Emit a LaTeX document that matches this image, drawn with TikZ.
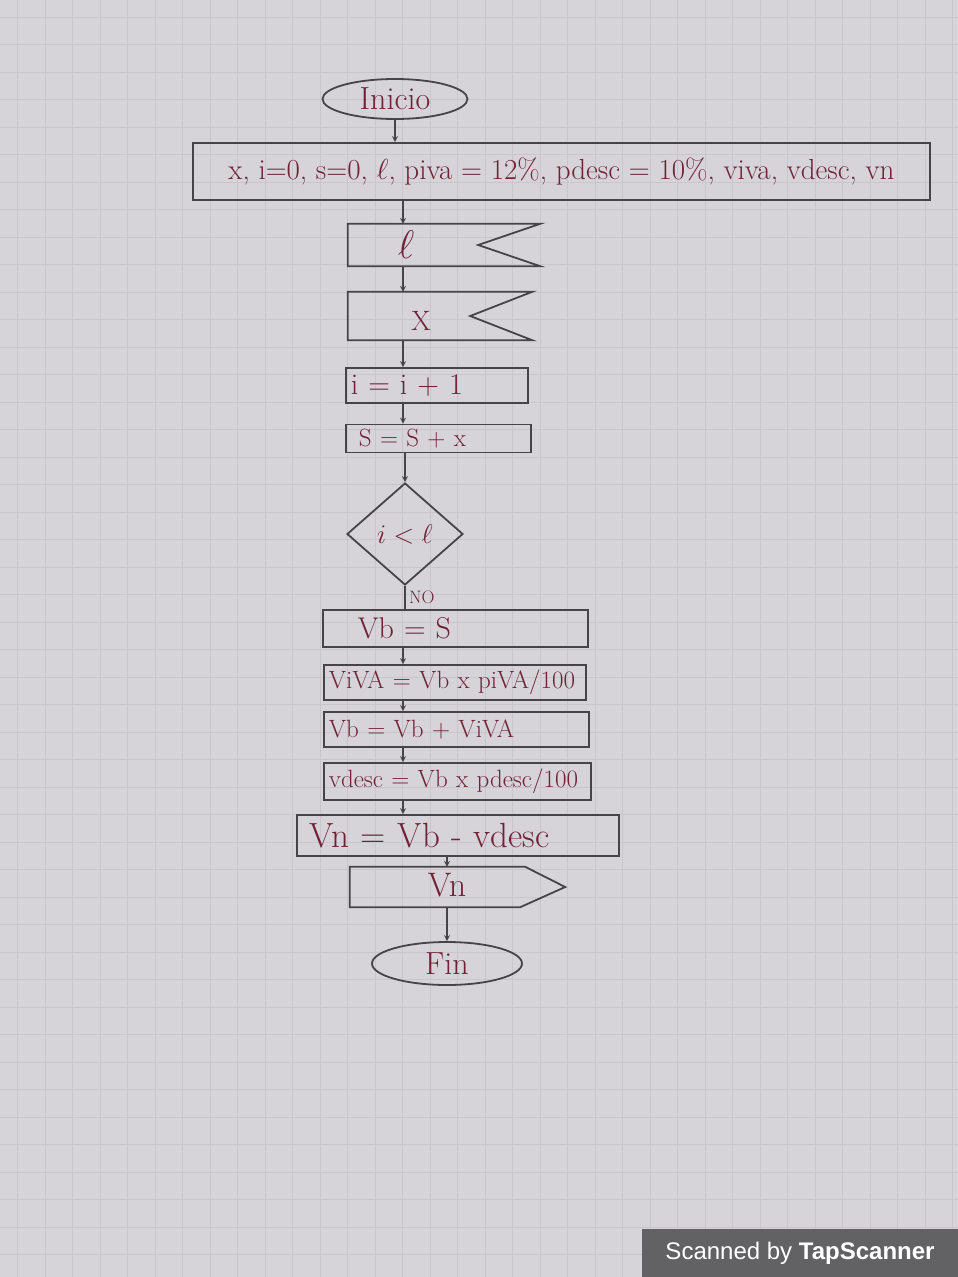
\RequirePackage{fix-cm}
\documentclass[tikz,border=0pt]{standalone}
\usepackage{fontspec}
\setsansfont{Liberation Sans}
\usetikzlibrary{shapes.geometric, arrows, positioning, calc}
\definecolor{papel}{RGB}{214,212,216}
\definecolor{cuadro}{RGB}{200,198,204}
\definecolor{tinta}{RGB}{112,34,54}
\definecolor{lapiz}{RGB}{70,68,74}
\definecolor{sello}{RGB}{98,98,100}
\tikzstyle{arrow} = [line width=1.6pt,->,>=stealth,draw=lapiz]
\tikzstyle{terminal} = [ellipse, draw=lapiz, line width=1.8pt, text=tinta, minimum width=145pt, minimum height=40pt, inner sep=0pt, font=\fontsize{32}{36}\selectfont]
\tikzstyle{process} = [rectangle, draw=lapiz, line width=1.8pt, text=tinta, anchor=west, align=left, inner xsep=5pt, inner ysep=0pt, text width=#1, font=\fontsize{25}{28}\selectfont]
\tikzstyle{flagbox} = [rectangle, inner sep=0pt]
\tikzstyle{handtext} = [text=tinta, inner sep=1pt, font=\fontsize{28}{32}\selectfont]
\tikzstyle{decision} = [diamond, draw=lapiz, line width=1.8pt, text=tinta, minimum width=116pt, minimum height=102pt, inner sep=0pt, font=\fontsize{27}{30}\selectfont]

\begin{document}
\begin{tikzpicture}[x=1pt, y=-1pt]
    % paper and grid
    \useasboundingbox (0,0) rectangle (958,1277);
    \fill[papel] (0,0) rectangle (958,1277);
    \foreach \gx in {17.5,45,...,958} \draw[cuadro, line width=1pt] (\gx,0) -- (\gx,1277);
    \foreach \gy in {17,44.5,...,1277} \draw[cuadro, line width=1pt] (0,\gy) -- (958,\gy);

    % flow axis
    \coordinate (eje) at (403,0);

    % Components
    \node[terminal] (inicio) at (395,99) {Inicio};
    \node[rectangle, draw=lapiz, line width=1.8pt, text=tinta, minimum width=737pt, minimum height=57pt,
        font=\fontsize{29}{32}\selectfont] (datos) at (561.5,171.5)
        {x, i=0, s=0, $\ell$, piva = 12\%, pdesc = 10\%, viva, vdesc, vn};

    \node[flagbox, minimum width=192pt, minimum height=42pt] (leerl) at (444,245) {};
    \draw[lapiz, line width=1.8pt] (leerl.south east) -- (leerl.south west) -- (leerl.north west)
        -- (leerl.north east) -- ($(leerl.east)+(-62,0)$) -- cycle;
    \node[handtext, font=\fontsize{40}{44}\selectfont] (tl) at (406,245) {$\ell$};

    \node[flagbox, minimum width=184pt, minimum height=48pt] (leerx) at (440,316) {};
    \draw[lapiz, line width=1.8pt] (leerx.south east) -- (leerx.south west) -- (leerx.north west)
        -- (leerx.north east) -- ($(leerx.east)+(-62,0)$) -- cycle;
    \node[handtext] (tx) at (421,321) {X};

    \node[process=172pt, minimum height=35pt, font=\fontsize{30}{33}\selectfont] (contar) at (345,385.5) {i = i + 1};
    \node[process=175pt, minimum height=28pt] (sumar) at (345,438.5) {\hspace*{8pt}S = S + x};

    \node[decision] (decide) at (405,534) {$i<\ell$};

    \node[process=255pt, minimum height=37pt, font=\fontsize{30}{33}\selectfont] (vb) at (322,628.5) {\hspace*{30pt}Vb = S};
    \node[process=252pt, minimum height=35pt] (iva) at (323,682.5) {ViVA = Vb x piVA/100};
    \node[process=255pt, minimum height=35pt] (vbiva) at (323,729.5) {Vb = Vb + ViVA};
    \node[process=257pt, minimum height=37pt] (desc) at (323,781.5) {vdesc = Vb x pdesc/100};
    \node[process=312pt, minimum height=41pt, font=\fontsize{35}{38}\selectfont] (vn) at (296,835.5)
        {\hspace*{8pt}Vn = Vb - vdesc};

    \node[flagbox, minimum width=215pt, minimum height=40pt] (salida) at (457.5,887) {};
    \draw[lapiz, line width=1.8pt] (salida.north west) -- ($(salida.north east)+(-40,0)$) -- (salida.east)
        -- ($(salida.south east)+(-45,0)$) -- (salida.south west) -- cycle;
    \node[handtext, font=\fontsize{34}{38}\selectfont] (tvn) at (447,885) {Vn};

    \node[terminal, minimum width=150pt, minimum height=43pt] (fin) at (447,963.5) {Fin};

    % Connections
    \draw[arrow] (inicio.south) -- (inicio.south |- datos.north);
    \draw[arrow] (datos.south -| eje) -- (leerl.north -| eje);
    \draw[arrow] (leerl.south -| eje) -- (leerx.north -| eje);
    \draw[arrow] (leerx.south -| eje) -- (contar.north -| eje);
    \draw[arrow] (contar.south -| eje) -- (sumar.north -| eje);
    \draw[arrow] (sumar.south -| decide) -- (decide.north);
    \draw[lapiz, line width=1.6pt] (decide.south) -- (decide.south |- vb.north)
        node[midway, right, text=tinta, font=\fontsize{18}{20}\selectfont] {NO};
    \draw[arrow] (vb.south -| eje) -- (iva.north -| eje);
    \draw[arrow] (iva.south -| eje) -- (vbiva.north -| eje);
    \draw[arrow] (vbiva.south -| eje) -- (desc.north -| eje);
    \draw[arrow] (desc.south -| eje) -- (vn.north -| eje);
    \draw[arrow] (vn.south -| tvn) -- (salida.north -| tvn);
    \draw[arrow] (salida.south -| fin) -- (fin.north);

    % scanner stamp
    \node[rectangle, fill=sello, text=white, minimum width=316pt, minimum height=48pt,
        font=\sffamily\fontsize{24}{27}\selectfont] (stamp) at (800,1253)
        {Scanned by \textbf{TapScanner}};
\end{tikzpicture}
\end{document}
